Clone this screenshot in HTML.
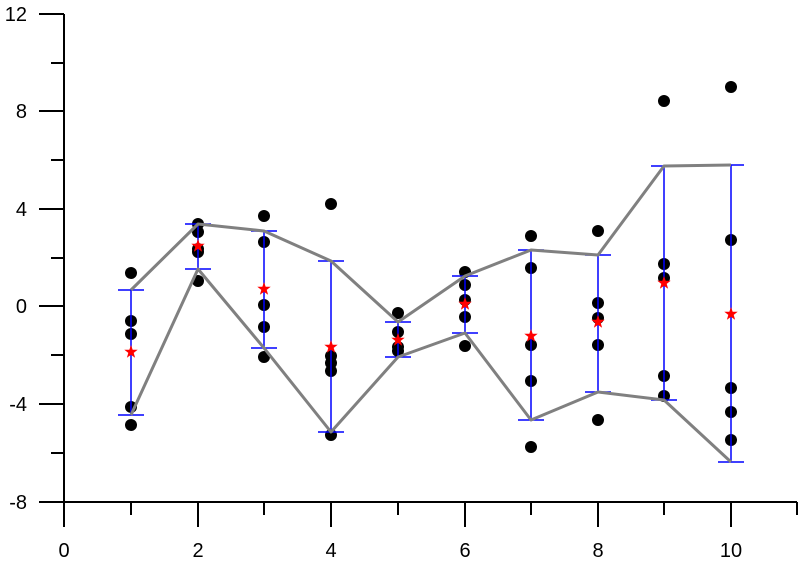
<!DOCTYPE html>
<html><head><meta charset="utf-8"><style>body{margin:0;background:#fff}svg{display:block}text{font-family:"Liberation Sans",Arial,sans-serif;font-size:20px;fill:#000}</style></head><body>
<svg width="800" height="566" viewBox="0 0 800 566">
<defs><polygon id="st" points="0,-7 1.65,-2.3 6.7,-2.2 2.7,0.9 4.1,5.7 0,2.9 -4.1,5.7 -2.7,0.9 -6.7,-2.2 -1.65,-2.3" fill="#f00"/></defs>
<g stroke="#000" stroke-width="2" fill="none">
<line x1="64" y1="14" x2="64" y2="527"/>
<line x1="39" y1="502" x2="797" y2="502"/>
<line x1="39" y1="14" x2="64" y2="14"/><line x1="51" y1="63" x2="64" y2="63"/>
<line x1="39" y1="111" x2="64" y2="111"/><line x1="51" y1="160" x2="64" y2="160"/>
<line x1="39" y1="209" x2="64" y2="209"/><line x1="51" y1="258" x2="64" y2="258"/>
<line x1="39" y1="306" x2="64" y2="306"/><line x1="51" y1="355" x2="64" y2="355"/>
<line x1="39" y1="404" x2="64" y2="404"/><line x1="51" y1="453" x2="64" y2="453"/>
<line x1="131" y1="502" x2="131" y2="515"/><line x1="198" y1="502" x2="198" y2="527"/>
<line x1="264" y1="502" x2="264" y2="515"/><line x1="331" y1="502" x2="331" y2="527"/>
<line x1="398" y1="502" x2="398" y2="515"/><line x1="465" y1="502" x2="465" y2="527"/>
<line x1="531" y1="502" x2="531" y2="515"/><line x1="598" y1="502" x2="598" y2="527"/>
<line x1="664" y1="502" x2="664" y2="515"/><line x1="731" y1="502" x2="731" y2="527"/>
<line x1="797" y1="502" x2="797" y2="515"/>
</g>
<g text-anchor="end"><text x="27" y="21">12</text><text x="27" y="118">8</text><text x="27" y="216">4</text><text x="27" y="313">0</text><text x="27" y="411">-4</text><text x="27" y="509">-8</text></g>
<g text-anchor="middle"><text x="64" y="557">0</text><text x="198" y="557">2</text><text x="331" y="557">4</text><text x="465" y="557">6</text><text x="598" y="557">8</text><text x="731" y="557">10</text></g>
<g fill="#000">
<circle cx="131" cy="273" r="6"/><circle cx="131" cy="321" r="6"/><circle cx="131" cy="334" r="6"/><circle cx="131" cy="407" r="6"/><circle cx="131" cy="425" r="6"/>
<circle cx="198" cy="224" r="6"/><circle cx="198" cy="232" r="6"/><circle cx="198" cy="249" r="6"/><circle cx="198" cy="252" r="6"/><circle cx="198" cy="281" r="6"/>
<circle cx="264" cy="216" r="6"/><circle cx="264" cy="242" r="6"/><circle cx="264" cy="305" r="6"/><circle cx="264" cy="327" r="6"/><circle cx="264" cy="357" r="6"/>
<circle cx="331" cy="204" r="6"/><circle cx="331" cy="356" r="6"/><circle cx="331" cy="363" r="6"/><circle cx="331" cy="371" r="6"/><circle cx="331" cy="435" r="6"/>
<circle cx="398" cy="313" r="6"/><circle cx="398" cy="332" r="6"/><circle cx="398" cy="347" r="6"/><circle cx="398" cy="351" r="6"/>
<circle cx="465" cy="272" r="6"/><circle cx="465" cy="285" r="6"/><circle cx="465" cy="300" r="6"/><circle cx="465" cy="317" r="6"/><circle cx="465" cy="346" r="6"/>
<circle cx="531" cy="236" r="6"/><circle cx="531" cy="268" r="6"/><circle cx="531" cy="345" r="6"/><circle cx="531" cy="381" r="6"/><circle cx="531" cy="447" r="6"/>
<circle cx="598" cy="231" r="6"/><circle cx="598" cy="303" r="6"/><circle cx="598" cy="318" r="6"/><circle cx="598" cy="345" r="6"/><circle cx="598" cy="420" r="6"/>
<circle cx="664" cy="101" r="6"/><circle cx="664" cy="264" r="6"/><circle cx="664" cy="278" r="6"/><circle cx="664" cy="376" r="6"/><circle cx="664" cy="396" r="6"/>
<circle cx="731" cy="87" r="6"/><circle cx="731" cy="240" r="6"/><circle cx="731" cy="388" r="6"/><circle cx="731" cy="412" r="6"/><circle cx="731" cy="440" r="6"/>
</g>
<g stroke="#00f" stroke-width="1.5" fill="none">
<path d="M131 290V415M118 290H144M118 415H144"/>
<path d="M198 224V269M185 224H211M185 269H211"/>
<path d="M264 231V348M251 231H277M251 348H277"/>
<path d="M331 261V432M318 261H344M318 432H344"/>
<path d="M398 322V357M385 322H411M385 357H411"/>
<path d="M465 276V333M452 276H478M452 333H478"/>
<path d="M531 250V420M518 250H544M518 420H544"/>
<path d="M598 255V392M585 255H611M585 392H611"/>
<path d="M664 166V400M651 166H677M651 400H677"/>
<path d="M731 165V462M718 165H744M718 462H744"/>
</g>
<g stroke="#808080" stroke-width="3" fill="none" stroke-linejoin="round">
<polyline points="131,290 198,224 264,231 331,261 398,322 465,276 531,250 598,255 664,166 731,165"/>
<polyline points="131,415 198,269 264,348 331,432 398,357 465,333 531,420 598,392 664,400 731,462"/>
</g>
<use href="#st" x="131" y="352"/><use href="#st" x="198" y="246"/><use href="#st" x="264" y="289"/><use href="#st" x="331" y="347"/><use href="#st" x="398" y="340"/><use href="#st" x="465" y="304"/><use href="#st" x="531" y="336"/><use href="#st" x="598" y="322"/><use href="#st" x="664" y="283"/><use href="#st" x="731" y="314"/>
</svg>
</body></html>
